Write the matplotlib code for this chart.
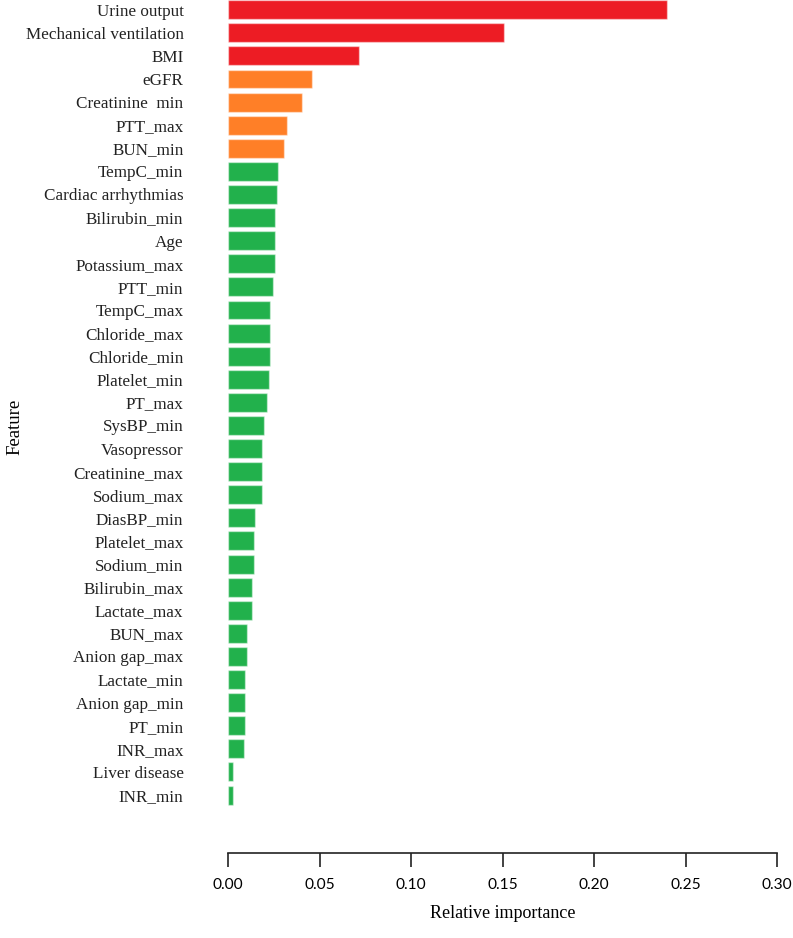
####################################
# Feature importance bar chart (relative importance per feature)
####################################

import matplotlib
matplotlib.use("Agg")
import matplotlib.pyplot as plt


features = [
    "Urine output", "Mechanical ventilation", "BMI", "eGFR", "Creatinine  min",
    "PTT_max", "BUN_min", "TempC_min", "Cardiac arrhythmias", "Bilirubin_min",
    "Age", "Potassium_max", "PTT_min", "TempC_max", "Chloride_max",
    "Chloride_min", "Platelet_min", "PT_max", "SysBP_min", "Vasopressor",
    "Creatinine_max", "Sodium_max", "DiasBP_min", "Platelet_max", "Sodium_min",
    "Bilirubin_max", "Lactate_max", "BUN_max", "Anion gap_max", "Lactate_min",
    "Anion gap_min", "PT_min", "INR_max", "Liver disease", "INR_min",
]

importance = [
    0.2400, 0.1508, 0.0718, 0.0457, 0.0406,
    0.0321, 0.0308, 0.0275, 0.0269, 0.0257,
    0.0257, 0.0257, 0.0244, 0.0231, 0.0231,
    0.0231, 0.0224, 0.0211, 0.0198, 0.0187,
    0.0187, 0.0187, 0.0148, 0.0142, 0.0142,
    0.0130, 0.0130, 0.0102, 0.0102, 0.0095,
    0.0095, 0.0095, 0.0089, 0.0026, 0.0026,
]

# importance group of each feature (high / medium / low)
groups = ["high"] * 3 + ["medium"] * 4 + ["low"] * 28

colors = {"high": "#ED1C24", "medium": "#FF7F27", "low": "#22B14C"}

xticks = [0.00, 0.05, 0.10, 0.15, 0.20, 0.25, 0.30]
xtick_labels = ["0.00", "0.05", "0.10", "0.15", "0.20", "0.25", "0.30"]

serif = ["Liberation Serif", "DejaVu Serif"]

fig = plt.figure(figsize=(7.93, 9.38), dpi=100)
ax = fig.add_axes([228 / 793, 1 - 852.8 / 938, 549 / 793, 852.8 / 938])

n = len(features)
ypos = [n - 1 - i for i in range(n)]
ax.barh(ypos, importance, height=0.82,
        color=[colors[g] for g in groups],
        edgecolor=(1, 1, 1, 0.45), linewidth=1.0)

## Axis limits
ax.set_xlim(0, 0.30)
ax.set_ylim(-2.5, n - 1 + 0.42)

## Spines: only the bottom axis line
for side in ["top", "right", "left"]:
    ax.spines[side].set_visible(False)
ax.spines["bottom"].set_linewidth(1.2)
ax.spines["bottom"].set_color("#222222")

## Ticks
ax.set_yticks(ypos)
ax.set_yticklabels(features, fontsize=12.3, family=serif, color="#222222")
ax.tick_params(axis="y", length=0, pad=32)

ax.set_xticks(xticks)
ax.set_xticklabels(xtick_labels, fontsize=11.2, family=["Lato", "DejaVu Sans"])
ax.tick_params(axis="x", length=10, width=1.2, pad=8.5, color="#222222")

## Labels
ax.set_xlabel("Relative importance", fontsize=13, family=serif, labelpad=9)
ax.set_ylabel("Feature", fontsize=13.5, family=serif)
ax.yaxis.set_label_coords(-0.372, 0.5)

fig.savefig("out.png", dpi=100)
